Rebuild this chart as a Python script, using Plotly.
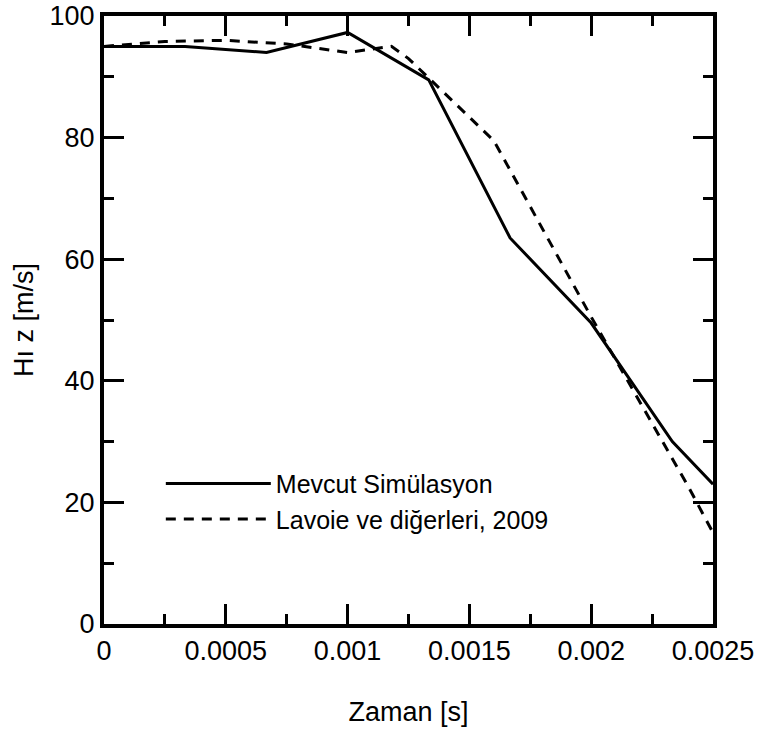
import plotly.graph_objects as go

# Mevcut Simülasyon (solid)
sim_x = [0, 0.000333, 0.000667, 0.001, 0.001333, 0.001667, 0.002, 0.002333, 0.0025]
sim_y = [95, 95, 94, 97.3, 89.5, 63.5, 49.5, 30, 23]

# Lavoie ve diğerleri, 2009 (dashed)
lav_x = [0, 0.00025, 0.0005, 0.00075, 0.001, 0.00118, 0.00125, 0.0016, 0.002, 0.0022, 0.0024, 0.0025]
lav_y = [95, 95.8, 96, 95.4, 94, 95, 93, 79.5, 50.5, 36.5, 22.5, 15]

x_tickvals = [0, 0.0005, 0.001, 0.0015, 0.002, 0.0025]
x_ticktext = ["0", "0.0005", "0.001", "0.0015", "0.002", "0.0025"]
y_tickvals = [0, 20, 40, 60, 80, 100]

FONT = "Liberation Sans, Arial, sans-serif"

fig = go.Figure()
fig.add_trace(go.Scatter(x=sim_x, y=sim_y, mode="lines", name="Mevcut Simülasyon",
                         line=dict(color="black", width=3)))
fig.add_trace(go.Scatter(x=lav_x, y=lav_y, mode="lines", name="Lavoie ve diğerleri, 2009",
                         line=dict(color="black", width=3, dash="10px,8px")))

axis_common = dict(showline=True, linecolor="black", linewidth=4, mirror="ticks",
                   ticks="inside", ticklen=20, tickwidth=3, tickcolor="black",
                   showgrid=False, zeroline=False, automargin=False,
                   ticklabeloverflow="allow",
                   tickfont=dict(family=FONT, size=27, color="black"))

fig.update_xaxes(range=[0, 0.0025], tickvals=x_tickvals, ticktext=x_ticktext,
                 minor=dict(ticks="inside", ticklen=10, tickwidth=3, tickcolor="black", dtick=0.00025),
                 title=dict(text="Zaman [s]", font=dict(family=FONT, size=27, color="black"), standoff=38),
                 **axis_common)
fig.update_yaxes(range=[0, 100], tickvals=y_tickvals,
                 minor=dict(ticks="inside", ticklen=10, tickwidth=3, tickcolor="black", dtick=10),
                 title=dict(text="Hı z [m/s]", font=dict(family=FONT, size=27, color="black"), standoff=9),
                 **axis_common)

fig.update_layout(
    width=758, height=733,
    margin=dict(l=104, r=45, t=16, b=109),
    paper_bgcolor="white", plot_bgcolor="white",
    font=dict(family=FONT, color="black"),
    showlegend=True,
    legend=dict(x=0.0933, y=0.2686, xanchor="left", yanchor="top",
                bgcolor="rgba(0,0,0,0)", borderwidth=0,
                font=dict(family=FONT, size=25, color="black"),
                itemwidth=105, tracegroupgap=0),
)

fig.write_html("out.html", config={"displayModeBar": False},
               post_script="document.body.style.margin='0';")
